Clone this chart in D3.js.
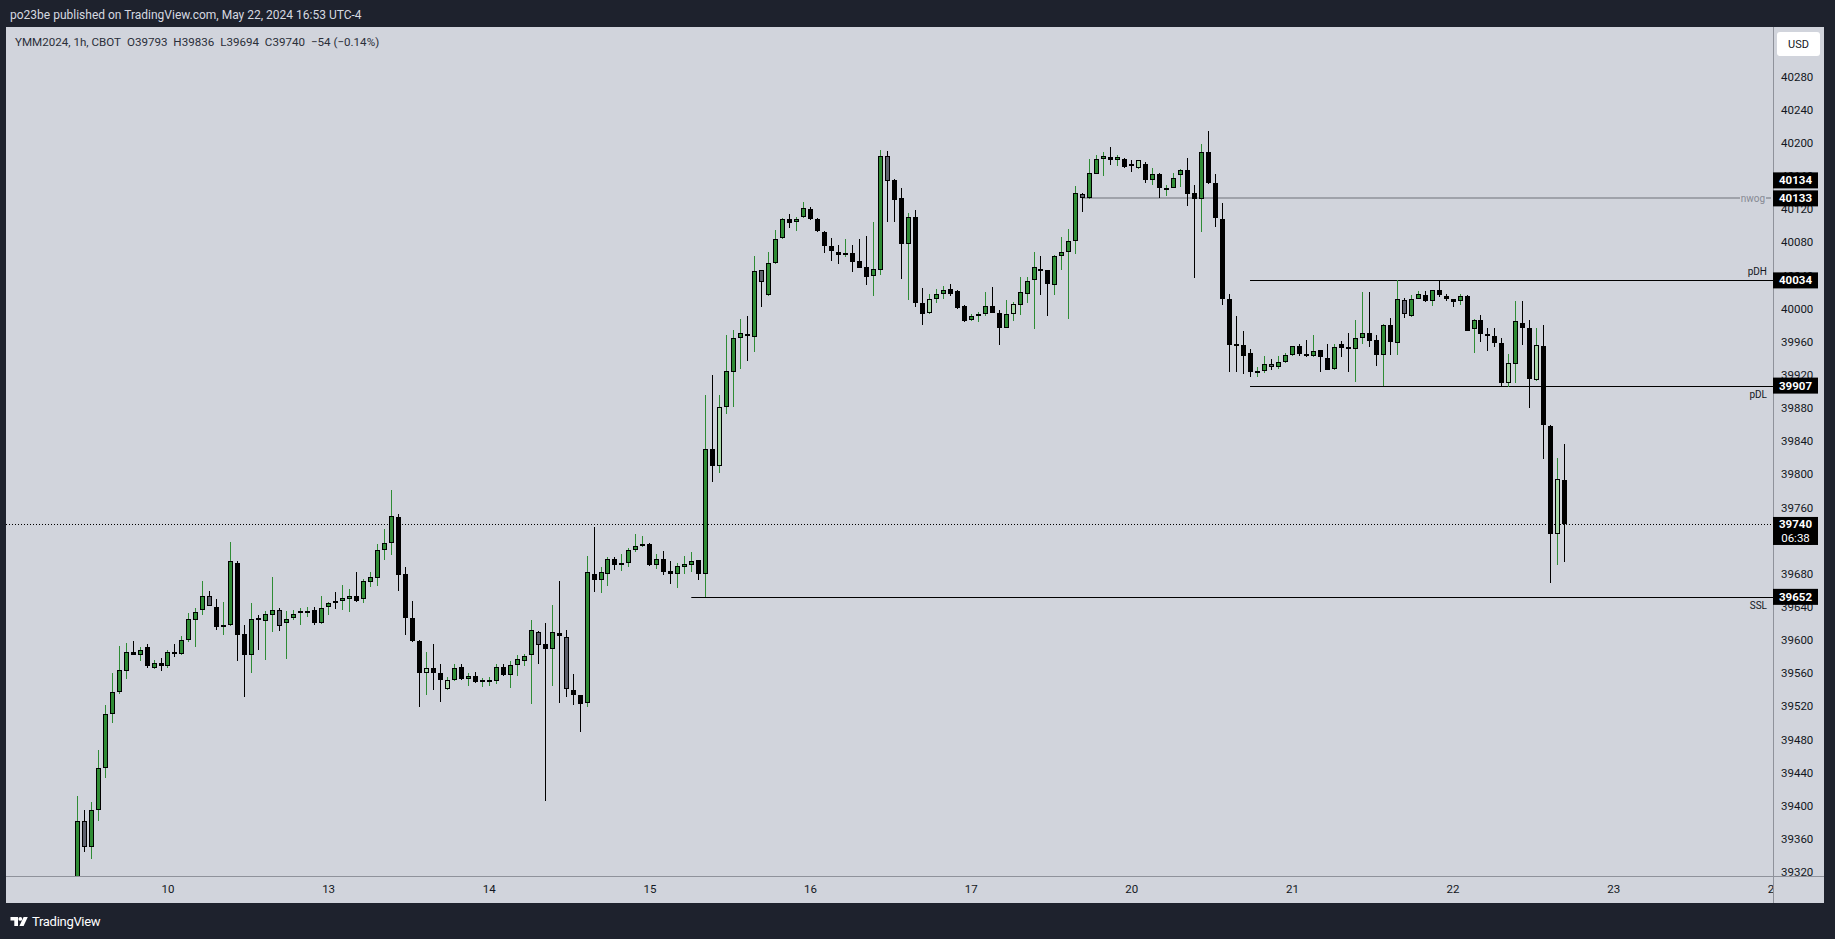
<!DOCTYPE html>
<html><head><meta charset="utf-8">
<script src="https://cdn.jsdelivr.net/npm/d3@7"></script>
<style>
html,body{margin:0;padding:0;background:#1e222d;}
svg{display:block;}
</style></head><body>
<svg id="c" width="1835" height="939"></svg>
<script>
// ---------------- DATA ----------------
const headerText = "po23be published on TradingView.com, May 22, 2024 16:53 UTC-4";
const legendText = "YMM2024, 1h, CBOT\u2002O39793\u2002H39836\u2002L39694\u2002C39740\u2002\u221254 (\u22120.14%)";
const currency = "USD";

// hourly bars, index 0 = May 9 11:00 (UTC-4)
const opens = [
39300,39382,39350,39395,39446,39511,39537,39562,39586,39582,
39591,39566,39572,39568,39586,39583,39600,39624,39636,39653,
39640,39617,39618,39693,39607,39582,39627,39623,39630,39636,
39620,39626,39632,39634,39636,39620,39640,39647,39647,39649,
39653,39649,39670,39675,39709,39717,39749,39680,39626,39599,
39560,39566,39560,39541,39552,39567,39553,39557,39551,39551,
39551,39567,39558,39570,39574,39582,39610,39595,39589,39608,
39604,39539,39533,39524,39680,39672,39680,39698,39690,39693,
39709,39715,39716,39690,39698,39683,39680,39688,39690,39696,
39679,39831,39810,39881,39924,39964,39969,39966,40046,40016,
40055,40085,40108,40104,40110,40120,40108,40093,40075,40068,
40066,40067,40057,40050,40039,40047,40184,40155,40133,40078,
40110,40007,39995,40011,40017,40024,40021,40003,39986,39991,
39994,40003,39995,39977,39993,40004,40018,40035,40048,40046,
40029,40063,40068,40081,40138,40133,40163,40180,40183,40179,
40181,40174,40170,40175,40155,40162,40145,40146,40161,40167,
40139,40132,40189,40152,40108,40012,39957,39956,39946,39923,
39925,39933,39929,39935,39944,39955,39945,39943,39950,39940,
39927,39957,39954,39951,39964,39970,39962,39944,39980,39959,
40010,39991,40012,40016,40009,40022,40015,40011,40009,40015,
39975,39986,39969,39967,39959,39910,39933,39982,39976,39914,
39955,39858,39728,39793];
const highs = [
39412,39395,39404,39467,39521,39560,39593,39596,39599,39591,
39595,39576,39578,39588,39595,39605,39632,39638,39671,39659,
39650,39646,39718,39695,39618,39645,39630,39635,39676,39639,
39635,39636,39639,39640,39640,39653,39646,39658,39666,39661,
39682,39673,39682,39716,39734,39781,39752,39688,39647,39600,
39585,39595,39571,39555,39571,39571,39560,39561,39554,39555,
39571,39571,39574,39582,39583,39624,39611,39620,39642,39671,
39612,39559,39534,39701,39736,39688,39700,39700,39704,39711,
39728,39725,39717,39704,39707,39695,39693,39701,39706,39697,
39896,39920,39896,39968,39974,39987,39991,40063,40046,40068,
40095,40109,40114,40111,40129,40123,40109,40094,40085,40077,
40084,40077,40084,40087,40104,40191,40190,40156,40145,40115,
40119,40025,40018,40024,40027,40030,40022,40004,39993,39996,
40020,40026,39998,40010,40008,40038,40038,40068,40063,40047,
40065,40086,40096,40148,40139,40181,40185,40189,40195,40185,
40182,40179,40179,40177,40170,40164,40149,40164,40169,40182,
40149,40199,40214,40162,40128,40018,39991,39973,39951,39929,
39943,39939,39943,39946,39955,39957,39962,39968,39950,39957,
39957,39961,39970,39986,40020,40020,39968,39981,39989,40034,
40013,40016,40021,40021,40023,40034,40017,40012,40017,40016,
39988,39992,39977,39977,39965,39945,40009,40009,39986,39977,
39980,39859,39820,39836];
const lows = [
39290,39344,39336,39382,39433,39500,39535,39553,39582,39575,
39566,39565,39563,39566,39580,39582,39598,39591,39630,39641,
39612,39606,39617,39575,39531,39560,39588,39576,39609,39611,
39577,39624,39618,39628,39618,39619,39630,39637,39636,39634,
39646,39644,39664,39665,39696,39703,39659,39606,39598,39519,
39533,39539,39525,39539,39551,39552,39545,39548,39543,39544,
39547,39556,39542,39556,39568,39523,39571,39406,39545,39524,
39531,39521,39489,39519,39658,39657,39665,39684,39683,39688,
39706,39712,39689,39686,39678,39667,39663,39680,39682,39672,
39652,39791,39801,39873,39881,39927,39937,39947,40002,40015,
40054,40084,40097,40094,40109,40107,40093,40067,40057,40054,
40062,40044,40049,40028,40015,40041,40104,40104,40036,40010,
40002,39980,39993,40007,40012,40015,40000,39984,39985,39984,
39991,39995,39956,39977,39985,39992,40007,39975,40016,39991,
40016,40047,39987,40066,40117,40132,40162,40160,40173,40172,
40170,40165,40168,40152,40149,40134,40136,40145,40147,40124,
40037,40092,40150,40098,40004,39923,39923,39921,39917,39917,
39922,39926,39927,39934,39943,39943,39941,39941,39924,39926,
39926,39941,39924,39911,39957,39953,39931,39907,39944,39944,
39989,39990,40011,40008,40003,40014,40009,40002,40004,39973,
39946,39960,39949,39953,39905,39905,39910,39956,39880,39912,
39818,39669,39691,39694];
const closes = [
39382,39350,39395,39445,39510,39537,39564,39586,39582,39588,
39568,39572,39568,39586,39585,39600,39625,39634,39653,39641,
39616,39618,39695,39606,39582,39625,39624,39631,39636,39617,
39625,39631,39635,39635,39621,39638,39644,39645,39651,39653,
39647,39671,39676,39709,39717,39750,39678,39626,39599,39560,
39566,39560,39552,39552,39566,39553,39557,39549,39552,39552,
39567,39558,39570,39577,39581,39612,39594,39589,39610,39605,
39541,39533,39523,39682,39672,39682,39698,39690,39693,39709,
39713,39716,39690,39698,39682,39679,39689,39692,39695,39680,
39830,39810,39881,39925,39964,39970,39968,40045,40032,40055,
40084,40108,40103,40108,40121,40108,40094,40076,40070,40065,
40067,40056,40049,40038,40048,40184,40154,40131,40078,40110,
40007,39993,40011,40017,40022,40018,40001,39985,39991,39993,
40003,39995,39976,39994,40005,40020,40033,40050,40047,40030,
40063,40068,40081,40139,40134,40164,40180,40184,40179,40183,
40171,40173,40179,40155,40163,40145,40146,40158,40167,40138,
40132,40189,40152,40109,40011,39956,39955,39943,39923,39925,
39933,39929,39936,39944,39955,39945,39944,39949,39942,39926,
39953,39952,39951,39964,39970,39961,39944,39980,39960,40011,
39994,40011,40017,40009,40022,40016,40011,40008,40015,39973,
39986,39969,39968,39958,39910,39934,39985,39976,39915,39956,
39860,39728,39794,39740];
// bars flagged by the inside-bar colouring
const insideBars = [1,19,26,29,50,53,66,70,92,98,116,122,134,144,152,169,171,190,205,209,212];

// time axis: bar index of each day start, and its label
const dayTickIndex = [13,36,59,82,105,128,151,174,197,220,243];
const dayTickLabels = ["10","13","14","15","16","17","20","21","22","23","24"];

// price axis
const priceTicks = [39320,39360,39400,39440,39480,39520,39560,39600,39640,39680,39720,39760,39800,39840,39880,39920,39960,40000,40040,40080,40120,40160,40200,40240,40280];
const priceTickLabels = ["39320","39360","39400","39440","39480","39520","39560","39600","39640","39680","39720","39760","39800","39840","39880","39920","39960","40000","40040","40080","40120","40160","40200","40240","40280"];

// drawn horizontal levels
const levelNames = ["nwog","pDH","pDL","SSL"];
const levelPrices = [40133,40034,39907,39652];
const levelStartBar = [144,168,168,88];

// price tags on the axis
const tagPrices = [40134,40133,40034,39907,39652];
const tagLabels = ["40134","40133","40034","39907","39652"];
const lastPrice = 39740;
const lastPriceLabel = "39740";
const countdown = "06:38";

// ---------------- LAYOUT ----------------
const W = 1835, H = 939;
const paneL = 6, paneT = 27, paneR = 1824, paneB = 903, plotR = 1773, plotB = 876;
const FONT = "Roboto, 'Liberation Sans', sans-serif";
const TXT = "#131722";
const GREEN = "#2f8c35", LIGHT = "#a9d9a9", GRAY = "#5e616d";

const x = d3.scaleLinear().domain([0, 213]).range([76.7, 1564.3]);
const y = d3.scaleLinear().domain([39320, 40280]).range([871.9, 76.6]);

const svg = d3.select("#c");
svg.append("rect").attr("width", W).attr("height", H).attr("fill", "#1e222d");
svg.append("rect").attr("x", paneL).attr("y", paneT).attr("width", paneR - paneL).attr("height", paneB - paneT).attr("fill", "#d1d4dc");

const defs = svg.append("defs");
defs.append("clipPath").attr("id", "plotClip").append("rect")
  .attr("x", paneL).attr("y", paneT).attr("width", plotR - paneL).attr("height", plotB - paneT);
defs.append("clipPath").attr("id", "xClip").append("rect")
  .attr("x", paneL).attr("y", plotB).attr("width", plotR - paneL).attr("height", paneB - plotB);

// header
svg.append("text").attr("x", 10).attr("y", 15).attr("dy", "0.35em")
  .attr("fill", "#d6d9e0").style("font", `12px ${FONT}`).text(headerText);

const plot = svg.append("g").attr("clip-path", "url(#plotClip)");

// levels
const snap = v => Math.round(v) + 0.5;
levelNames.forEach((n, k) => {
  const yy = snap(y(levelPrices[k]));
  const isGap = n === "nwog";
  plot.append("line").attr("x1", x(levelStartBar[k])).attr("x2", isGap ? 1771 : plotR)
    .attr("y1", isGap ? yy - 0.5 : yy).attr("y2", isGap ? yy - 0.5 : yy)
    .attr("stroke", isGap ? "#9fa2aa" : "#000").attr("stroke-width", isGap ? 2 : 1);
});

// last price dotted line
const yLast = snap(y(lastPrice));
plot.append("line").attr("x1", paneL).attr("x2", plotR).attr("y1", yLast).attr("y2", yLast)
  .attr("stroke", "#000").attr("stroke-width", 1).attr("stroke-dasharray", "1,2");

// candles
const inside = new Set(insideBars);
const bars = d3.range(opens.length).map(i => ({i, o: opens[i], h: highs[i], l: lows[i], c: closes[i]}));
const cg = plot.append("g");
bars.forEach(b => {
  const up = b.c >= b.o;
  const cx = Math.round(x(b.i));
  const wickCol = up ? GREEN : "#000";
  const fill = inside.has(b.i) ? (up ? LIGHT : GRAY) : (up ? GREEN : "#000");
  cg.append("line").attr("x1", cx + 0.5).attr("x2", cx + 0.5)
    .attr("y1", Math.round(y(b.h))).attr("y2", Math.round(y(b.l)))
    .attr("stroke", wickCol).attr("stroke-width", 1);
  const yt = Math.round(y(Math.max(b.o, b.c)));
  const yb = Math.round(y(Math.min(b.o, b.c)));
  const hgt = Math.max(1, yb - yt);
  cg.append("rect").attr("x", cx - 1.5).attr("y", yt + 0.5).attr("width", 4).attr("height", hgt - (hgt > 1 ? 1 : 0))
    .attr("fill", fill).attr("stroke", "#000").attr("stroke-width", 1);
});

// level labels
levelNames.forEach((n, k) => {
  const yy = y(levelPrices[k]);
  if (n === "nwog") {
    svg.append("rect").attr("x", 1740).attr("y", yy - 6).attr("width", 26).attr("height", 12).attr("fill", "#d1d4dc");
    svg.append("text").attr("x", 1753).attr("y", yy).attr("dy", "0.32em").attr("text-anchor", "middle")
      .attr("fill", "#878a94").style("font", `10px ${FONT}`).text(n);
  } else {
    const below = levelPrices[k] === 39907 || levelPrices[k] === 39652;
    svg.append("text").attr("x", 1767).attr("y", below ? yy + 12.5 : yy - 5)
      .attr("text-anchor", "end").attr("fill", TXT).style("font", `10px ${FONT}`).text(n);
  }
});

// axis borders
svg.append("line").attr("x1", plotR + 0.5).attr("x2", plotR + 0.5).attr("y1", paneT).attr("y2", paneB)
  .attr("stroke", "#8f929b").attr("stroke-width", 1);
svg.append("line").attr("x1", paneL).attr("x2", paneR).attr("y1", plotB + 0.5).attr("y2", plotB + 0.5)
  .attr("stroke", "#8f929b").attr("stroke-width", 1);

// right price axis
const yAxis = d3.axisRight(y).tickValues(priceTicks).tickSize(0).tickPadding(8)
  .tickFormat((d, i) => priceTickLabels[i]);
const gy = svg.append("g").attr("transform", `translate(${plotR},0)`).call(yAxis);
gy.select(".domain").remove();
gy.selectAll("text").attr("fill", TXT).style("font", `11.5px ${FONT}`);

// bottom time axis
const xAxis = d3.axisBottom(x).tickValues(dayTickIndex).tickSize(0).tickPadding(9)
  .tickFormat((d, i) => dayTickLabels[i]);
const gx = svg.append("g").attr("clip-path", "url(#xClip)").append("g")
  .attr("transform", `translate(0,${plotB})`).call(xAxis);
gx.select(".domain").remove();
gx.selectAll("text").attr("fill", TXT).style("font", `11.5px ${FONT}`);

// legend
svg.append("text").attr("x", 15).attr("y", 42).attr("dy", "0.35em")
  .attr("fill", "#2a2e39").style("font", `11.6px ${FONT}`).style("white-space", "pre").text(legendText);

// USD box
svg.append("rect").attr("x", 1777).attr("y", 32).attr("width", 43).attr("height", 24).attr("rx", 3)
  .attr("fill", "#ffffff");
svg.append("text").attr("x", 1798.5).attr("y", 44).attr("dy", "0.35em").attr("text-anchor", "middle")
  .attr("fill", TXT).style("font", `11px ${FONT}`).text(currency);

// price tags
function tag(yc, label) {
  svg.append("rect").attr("x", plotR).attr("y", yc - 8).attr("width", 45).attr("height", 16).attr("fill", "#000");
  svg.append("text").attr("x", plotR + 22.5).attr("y", yc).attr("dy", "0.35em").attr("text-anchor", "middle")
    .attr("fill", "#fff").style("font", `bold 11.5px ${FONT}`).text(label);
}
const tagY = tagPrices.map(p => y(p));
// stacked overlapping tags: push the earlier one up
tagY[0] = tagY[1] - 18;
tagPrices.forEach((p, k) => tag(tagY[k], tagLabels[k]));
// last price tag with countdown
const ly = y(lastPrice);
svg.append("rect").attr("x", plotR).attr("y", ly - 7).attr("width", 45).attr("height", 28).attr("fill", "#000");
svg.append("text").attr("x", plotR + 22.5).attr("y", ly + 0.5).attr("dy", "0.35em").attr("text-anchor", "middle")
  .attr("fill", "#fff").style("font", `bold 11.5px ${FONT}`).text(lastPriceLabel);
svg.append("text").attr("x", plotR + 22.5).attr("y", ly + 14.5).attr("dy", "0.35em").attr("text-anchor", "middle")
  .attr("fill", "#fff").style("font", `11.5px ${FONT}`).text(countdown);

// footer logo + brand
const logo = svg.append("g").attr("fill", "#ffffff");
logo.append("path").attr("d", "M10.5 917 H18 V926 H14.3 V920.6 H10.5 Z");
logo.append("circle").attr("cx", 20.3).attr("cy", 918.9).attr("r", 1.9);
logo.append("path").attr("d", "M23.6 917 H27.8 L23.6 926 H19.4 Z");
svg.append("text").attr("x", 32).attr("y", 921.5).attr("dy", "0.35em")
  .attr("fill", "#ffffff").style("font", `13px ${FONT}`).style("letter-spacing", "-0.3px").text("TradingView");
</script>
</body></html>
